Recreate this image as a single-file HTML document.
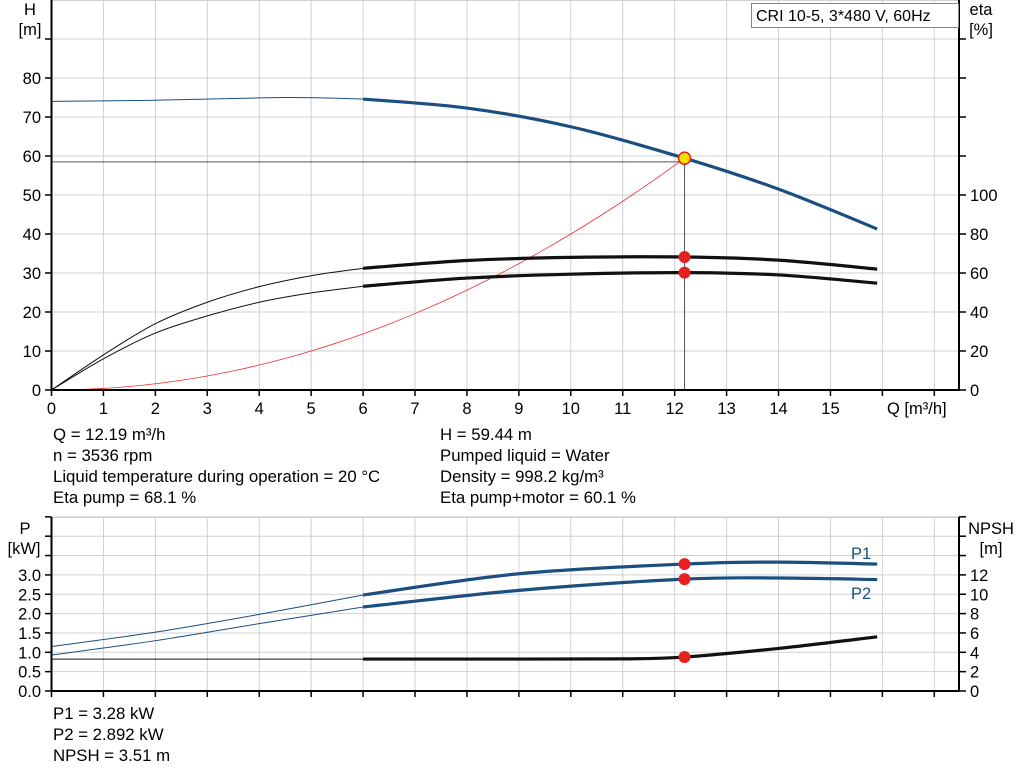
<!DOCTYPE html>
<html><head><meta charset="utf-8"><style>
body{margin:0;background:#fff;}
svg{display:block;font-family:"Liberation Sans",Arial,sans-serif;}
</style></head><body>
<svg id="s" width="1024" height="781" viewBox="0 0 1024 781" xmlns="http://www.w3.org/2000/svg">
<g id="grid" stroke="#d0d0d0" stroke-width="1"></g>
<g id="curves" fill="none"></g>
<g id="axes" stroke="#000" stroke-width="2" fill="none"></g>
<g id="txt" font-size="16.5" fill="#000"></g>
<rect x="751.5" y="3.5" width="207" height="24" fill="#fff" stroke="#888"/>
<text x="756" y="21" font-size="16">CRI 10-5, 3*480 V, 60Hz</text>
<g font-size="16.8">
<text x="53" y="440">Q = 12.19 m³/h</text>
<text x="53" y="461">n = 3536 rpm</text>
<text x="53" y="482">Liquid temperature during operation = 20 °C</text>
<text x="53" y="503">Eta pump = 68.1 %</text>
<text x="440" y="440">H = 59.44 m</text>
<text x="440" y="461">Pumped liquid = Water</text>
<text x="440" y="482">Density = 998.2 kg/m³</text>
<text x="440" y="503">Eta pump+motor = 60.1 %</text>
<text x="53" y="719">P1 = 3.28 kW</text>
<text x="53" y="740">P2 = 2.892 kW</text>
<text x="53" y="761">NPSH = 3.51 m</text>
</g>
</svg>
<script>
const NS="http://www.w3.org/2000/svg";
function el(p,t,a,txt){const e=document.createElementNS(NS,t);for(const k in a)e.setAttribute(k,a[k]);if(txt!==undefined)e.textContent=txt;document.getElementById(p).appendChild(e);return e;}
const X=q=>51.5+51.93*q;
const YT=h=>390-3.9*h;
const YB=p=>691-38.7*p;
const YN=m=>691-9.675*m;
for(let q=1;q<=17;q++){el('grid','line',{x1:X(q),x2:X(q),y1:0,y2:390});el('grid','line',{x1:X(q),x2:X(q),y1:517,y2:691});}
for(let h=10;h<=100;h+=10){const y=YT(h);if(y<0)continue;el('grid','line',{x1:51.5,x2:959,y1:y,y2:y});}
el('grid','line',{x1:51.5,x2:959,y1:0.5,y2:0.5});
for(let p=0.5;p<=4.5;p+=0.5){const y=YB(p);el('grid','line',{x1:51.5,x2:959,y1:y,y2:y});}
el('grid','line',{x1:51.5,x2:959,y1:517.5,y2:517.5});
el('axes','path',{d:`M51.5 0V390H959V0`});
el('axes','path',{d:`M51.5 517V691H959V517`});
for(let q=0;q<=17;q++){el('axes','line',{x1:X(q),x2:X(q),y1:390,y2:396,'stroke-width':1.5});el('axes','line',{x1:X(q),x2:X(q),y1:691,y2:697,'stroke-width':1.5});
 if(q<=15)el('txt','text',{x:X(q),y:414,'text-anchor':'middle'},q);}
el('txt','text',{x:887,y:414},'Q [m³/h]');
for(let h=0;h<=90;h+=10){const y=YT(h);el('axes','line',{x1:45,x2:51.5,y1:y,y2:y,'stroke-width':1.5});if(h<=80)el('txt','text',{x:41,y:y+6,'text-anchor':'end'},h);}
for(let e=0;e<=180;e+=20){const y=YT(e/2);el('axes','line',{x1:959,x2:966,y1:y,y2:y,'stroke-width':1.5});if(e<=100)el('txt','text',{x:970,y:y+6},e);}
el('txt','text',{x:30,y:15,'text-anchor':'middle'},'H');el('txt','text',{x:30,y:35,'text-anchor':'middle'},'[m]');
el('txt','text',{x:981,y:15,'text-anchor':'middle'},'eta');el('txt','text',{x:981,y:35,'text-anchor':'middle'},'[%]');
for(let p=0;p<=4.5;p+=0.5){const y=YB(p);el('axes','line',{x1:45,x2:51.5,y1:y,y2:y,'stroke-width':1.5});if(p<=3)el('txt','text',{x:41,y:y+6,'text-anchor':'end'},p.toFixed(1));}
for(let m=0;m<=18;m+=2){const y=YN(m);el('axes','line',{x1:959,x2:966,y1:y,y2:y,'stroke-width':1.5});if(m<=12)el('txt','text',{x:970,y:y+6},m);}
el('txt','text',{x:25,y:534,'text-anchor':'middle'},'P');el('txt','text',{x:24,y:554,'text-anchor':'middle'},'[kW]');
el('txt','text',{x:991,y:534,'text-anchor':'middle'},'NPSH');el('txt','text',{x:991,y:554,'text-anchor':'middle'},'[m]');
el('txt','text',{x:851,y:559,fill:'#1a4f80'},'P1');el('txt','text',{x:851,y:599,fill:'#1a4f80'},'P2');
function path(pts){let d='M'+pts[0][0]+' '+pts[0][1];for(let i=0;i<pts.length-1;i++){const p0=pts[i-1]||pts[i],p1=pts[i],p2=pts[i+1],p3=pts[i+2]||p2;
 d+=` C${p1[0]+(p2[0]-p0[0])/6} ${p1[1]+(p2[1]-p0[1])/6} ${p2[0]-(p3[0]-p1[0])/6} ${p2[1]-(p3[1]-p1[1])/6} ${p2[0]} ${p2[1]}`;}return d;}
function curve(data,fy,col,split){const a=data.filter(p=>p[0]<=split).map(p=>[X(p[0]),fy(p[1])]);const b=data.filter(p=>p[0]>=split).map(p=>[X(p[0]),fy(p[1])]);
 el('curves','path',{d:path(a),stroke:col,'stroke-width':1});el('curves','path',{d:path(b),stroke:col,'stroke-width':3.2});}
let sc=[];for(let q=0;q<=12.19;q+=0.5)sc.push([X(q),YT(59.44*(q/12.19)**2)]);sc.push([X(12.19),YT(59.44)]);
el('curves','path',{d:path(sc),stroke:'#f03030','stroke-width':0.8});
el('curves','path',{d:`M51.5 ${YT(58.5)}H${X(12.19)}V390`,stroke:'#555','stroke-width':1});
curve([[0,74],[2,74.3],[4.5,75],[6,74.6],[8,72.3],[10,67.5],[12.19,59.44],[14,51.5],[15.9,41.3]],YT,'#1a4f80',6);
const e1=[[0,0],[1,9],[2,17],[3,22.5],[4,26.5],[5,29.3],[6,31.2],[8,33.2],[10,34],[12.19,34.1],[14,33.3],[15.9,31]];
const e2=[[0,0],[1,8],[2,14.6],[3,19],[4,22.5],[5,24.9],[6,26.6],[8,28.7],[10,29.7],[12.19,30.1],[14,29.5],[15.9,27.4]];
curve(e1,YT,'#111',6);curve(e2,YT,'#111',6);
curve([[0,1.15],[2,1.52],[4,1.98],[6,2.48],[9,3.03],[12.19,3.28],[14,3.33],[15.9,3.28]],YB,'#1a4f80',6);
curve([[0,0.93],[2,1.3],[4,1.74],[6,2.17],[9,2.6],[12.19,2.89],[14,2.92],[15.9,2.88]],YB,'#1a4f80',6);
curve([[0,3.3],[6,3.3],[9,3.3],[11,3.32],[12.19,3.51],[14,4.4],[15.9,5.6]],YN,'#111',6);
[[12.19,YT(34.1)],[12.19,YT(30.1)],[12.19,YB(3.28)],[12.19,YB(2.89)],[12.19,YN(3.51)]].forEach(p=>el('curves','circle',{cx:X(p[0]),cy:p[1],r:6,fill:'#e82020'}));
el('curves','circle',{cx:X(12.19),cy:YT(59.44),r:6,fill:'#f5e000',stroke:'#e82020','stroke-width':1.5});
</script>
</body></html>
